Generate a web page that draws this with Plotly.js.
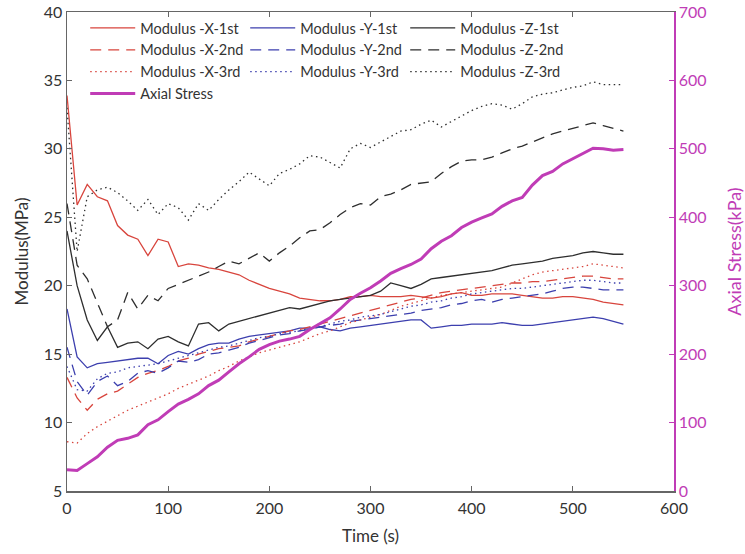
<!DOCTYPE html>
<html>
<head>
<meta charset="utf-8">
<script src="https://cdn.plot.ly/plotly-3.0.1.min.js"></script>
<style>html,body{margin:0;padding:0;background:#fff;}#chart{width:745px;height:554px;}</style>
</head>
<body>
<div id="chart"></div>
<script>
var time = [0,10,20,30,40,50,60,70,80,90,100,110,120,130,140,150,160,170,180,190,200,210,220,230,240,250,260,270,280,290,300,310,320,330,340,350,360,370,380,390,400,410,420,430,440,450,460,470,480,490,500,510,520,530,540,550];

var modXFirst = [33.9,25.9,27.4,26.5,26.2,24.4,23.7,23.4,22.2,23.4,23.2,21.4,21.6,21.5,21.3,21.2,21.0,20.8,20.4,20.1,19.8,19.6,19.4,19.1,19.0,18.9,18.9,19.0,19.2,19.2,19.3,19.2,19.2,19.2,19.3,19.2,19.1,19.2,19.4,19.5,19.3,19.3,19.4,19.4,19.4,19.3,19.2,19.1,19.1,19.2,19.2,19.1,19.0,18.8,18.7,18.6];
var modXSecond = [13.3,11.8,10.9,11.7,12.1,12.3,12.8,13.3,13.6,13.8,14.1,14.5,14.7,15.0,15.2,15.4,15.5,15.6,15.9,16.1,16.3,16.5,16.7,16.8,17.0,17.2,17.4,17.6,17.8,18.0,18.2,18.4,18.6,18.8,19.0,19.1,19.3,19.5,19.6,19.7,19.8,19.9,20.0,20.1,20.2,20.2,20.3,20.3,20.4,20.5,20.6,20.7,20.7,20.6,20.5,20.5];
var modXThird = [8.6,8.5,9.2,9.7,10.1,10.5,10.9,11.2,11.5,11.8,12.1,12.5,12.8,13.1,13.4,13.8,14.1,14.5,14.8,15.1,15.3,15.5,15.7,15.9,16.2,16.5,16.7,17.0,17.3,17.5,17.7,17.9,18.2,18.5,18.7,18.9,19.1,19.3,19.4,19.5,19.6,19.7,19.8,19.9,20.2,20.5,20.8,21.0,21.1,21.2,21.3,21.4,21.6,21.5,21.4,21.3];

var modYFirst = [18.3,14.8,14.0,14.3,14.4,14.5,14.6,14.7,14.7,14.3,14.9,15.2,15.0,15.4,15.7,15.8,15.8,16.1,16.3,16.4,16.5,16.6,16.7,16.9,16.9,17.0,16.8,16.7,16.9,17.0,17.1,17.2,17.3,17.4,17.5,17.5,16.9,17.0,17.1,17.1,17.2,17.2,17.2,17.3,17.2,17.1,17.1,17.2,17.3,17.4,17.5,17.6,17.7,17.6,17.4,17.2];
var modYSecond = [15.5,13.0,12.0,13.0,13.4,12.7,13.0,13.6,13.8,13.6,14.0,14.5,14.4,14.6,15.0,15.1,15.3,15.5,15.8,16.0,16.2,16.4,16.5,16.7,16.8,17.0,17.1,17.2,17.4,17.5,17.6,17.7,17.8,17.9,18.0,18.2,18.3,18.4,18.6,18.7,18.9,19.0,18.8,19.0,19.1,19.2,19.3,19.4,19.6,19.8,19.9,19.9,19.8,19.7,19.7,19.7];
var modYThird = [14.1,12.4,12.3,13.2,13.6,13.7,14.0,14.1,14.2,14.3,14.5,14.7,14.9,15.1,15.3,15.5,15.6,15.8,16.0,16.2,16.3,16.5,16.6,16.7,16.9,17.0,17.2,17.4,17.5,17.7,17.8,17.9,18.1,18.3,18.5,18.6,18.8,18.9,19.1,19.2,19.4,19.5,19.6,19.7,19.8,19.8,19.9,20.0,20.1,20.2,20.3,20.4,20.4,20.3,20.2,20.2];

var modZFirst = [24.0,20.0,17.5,16.0,17.0,15.5,15.8,15.9,15.4,16.1,16.3,15.9,15.6,17.2,17.3,16.7,17.2,17.4,17.6,17.8,18.0,18.2,18.4,18.3,18.5,18.7,18.9,19.0,19.1,19.2,19.3,19.6,20.2,20.0,19.8,20.1,20.5,20.6,20.7,20.8,20.9,21.0,21.1,21.3,21.5,21.6,21.7,21.8,22.0,22.1,22.2,22.4,22.5,22.4,22.3,22.3];
var modZSecond = [26.0,21.5,20.5,18.7,17.0,17.5,19.5,18.3,19.3,18.9,19.8,20.1,20.4,20.7,21.0,21.4,21.8,21.6,22.0,22.4,21.8,22.4,22.9,23.5,24.0,24.1,24.6,25.2,25.7,26.0,25.9,26.5,26.7,27.0,27.4,27.5,27.6,28.2,28.7,29.1,29.2,29.2,29.4,29.7,30.0,30.2,30.5,30.8,31.1,31.3,31.5,31.7,31.9,31.7,31.5,31.3];
var modZThird = [33.0,22.5,26.5,27.0,27.2,26.8,26.2,25.5,26.3,25.2,26.0,25.7,24.8,26.0,25.5,26.3,27.0,27.6,28.3,27.8,27.3,28.2,28.5,28.9,29.5,29.4,29.0,28.6,30.0,30.4,30.1,30.5,30.9,31.3,31.4,31.8,32.1,31.6,32.0,32.4,32.8,33.1,33.3,33.2,32.9,33.3,33.8,34.0,34.1,34.3,34.5,34.6,34.9,34.7,34.7,34.7];

var axialStress = [31,30,40,50,64,74,77,82,97,104,116,127,134,142,154,162,174,186,196,207,214,219,222,226,236,244,253,266,280,289,297,307,318,325,331,339,354,365,373,385,393,399,405,416,424,429,447,461,467,478,486,494,501,500,498,499];

var seriesNames = ['Modulus -X-1st','Modulus -Y-1st','Modulus -Z-1st','Modulus -X-2nd','Modulus -Y-2nd','Modulus -Z-2nd','Modulus -X-3rd','Modulus -Y-3rd','Modulus -Z-3rd','Axial Stress'];

var RED = '#d8453d', BLUE = '#3c3fae', BLACK = '#2e2e2e', MAG = '#c03cb6';
var DASH = '11px,7px', DOT = '1.5px,3.5px';

function modTrace(name, y, color, dash) {
  return {x: time, y: y, name: name, type: 'scatter', mode: 'lines',
          line: {color: color, width: 1.3, dash: dash}, yaxis: 'y'};
}

var traces = [
  modTrace(seriesNames[0], modXFirst, RED, 'solid'),
  modTrace(seriesNames[1], modYFirst, BLUE, 'solid'),
  modTrace(seriesNames[2], modZFirst, BLACK, 'solid'),
  modTrace(seriesNames[3], modXSecond, RED, DASH),
  modTrace(seriesNames[4], modYSecond, BLUE, DASH),
  modTrace(seriesNames[5], modZSecond, BLACK, DASH),
  modTrace(seriesNames[6], modXThird, RED, DOT),
  modTrace(seriesNames[7], modYThird, BLUE, DOT),
  modTrace(seriesNames[8], modZThird, BLACK, DOT),
  {x: time, y: axialStress, name: seriesNames[9], type: 'scatter', mode: 'lines',
   line: {color: MAG, width: 3}, yaxis: 'y2'}
];

var FONT = 'Lato, "Noto Sans", sans-serif';
var layout = {
  width: 745, height: 554, autosize: false,
  paper_bgcolor: '#fff', plot_bgcolor: '#fff',
  margin: {l: 67, r: 71, t: 12, b: 63},
  font: {family: FONT, size: 16, color: '#333'},
  showlegend: true,
  legend: {orientation: 'h', x: 0.03, y: 1.0, xanchor: 'left', yanchor: 'top',
           bgcolor: 'rgba(255,255,255,0)', borderwidth: 0,
           font: {family: FONT, size: 14.5, color: '#333'},
           entrywidth: 100, entrywidthmode: 'pixels', itemwidth: 45, tracegroupgap: 0},
  xaxis: {range: [0, 600], dtick: 100, tick0: 0, showgrid: false, zeroline: false,
          showline: true, linecolor: '#666', linewidth: 1.5, mirror: 'ticks',
          ticks: 'inside', ticklen: 5, tickcolor: '#666', tickwidth: 1.2,
          ticklabelstandoff: 2,
          tickfont: {family: FONT, size: 16, color: '#333'},
          title: {text: 'Time (s)', font: {family: FONT, size: 17, color: '#333'}, standoff: 14}},
  yaxis: {range: [5, 40], dtick: 5, tick0: 5, showgrid: false, zeroline: false,
          showline: true, linecolor: '#666', linewidth: 1.5,
          ticks: 'inside', ticklen: 5, tickcolor: '#666', tickwidth: 1.2,
          tickfont: {family: FONT, size: 16, color: '#333'},
          title: {text: 'Modulus(MPa)', font: {family: FONT, size: 17, color: '#333'}, standoff: 11}},
  yaxis2: {range: [0, 700], dtick: 100, tick0: 0, overlaying: 'y', side: 'right',
           showgrid: false, zeroline: false, showline: true, linecolor: MAG, linewidth: 1.5,
           ticks: 'inside', ticklen: 5, tickcolor: MAG, tickwidth: 1.2,
           tickfont: {family: FONT, size: 16, color: MAG},
           title: {text: 'Axial Stress(kPa)', font: {family: FONT, size: 18, color: MAG}, standoff: 24}}
};

Plotly.newPlot('chart', traces, layout, {displayModeBar: false, staticPlot: true});
</script>
</body>
</html>
